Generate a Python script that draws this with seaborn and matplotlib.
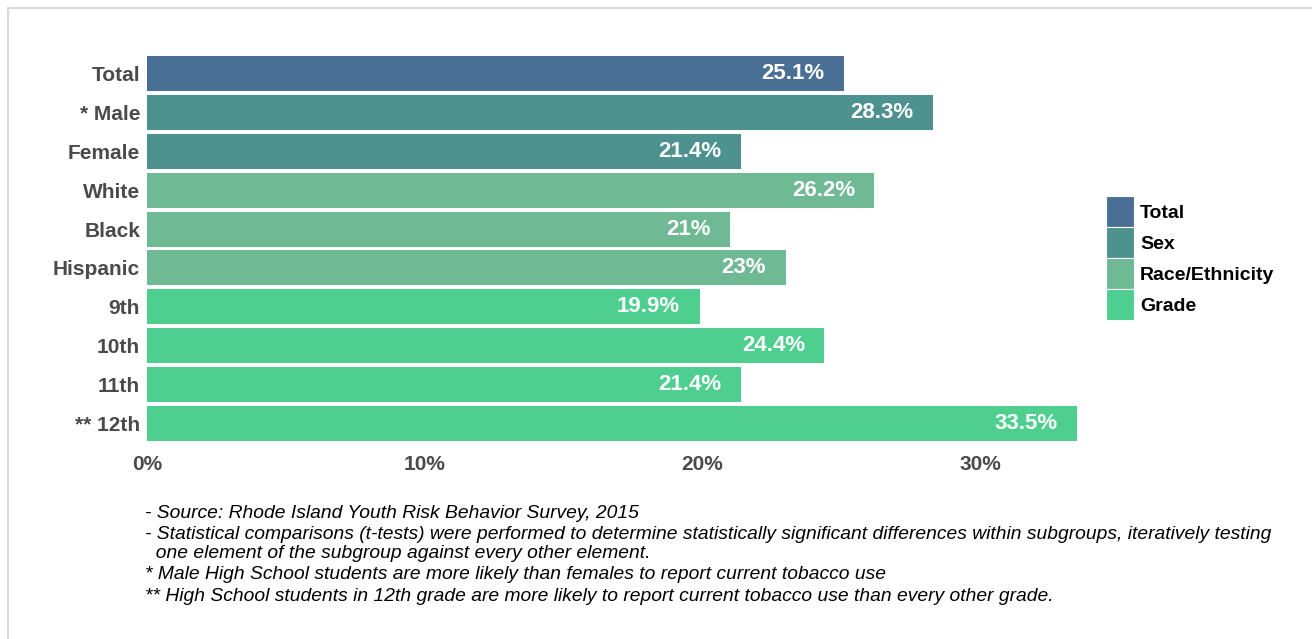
import matplotlib
matplotlib.use("Agg")
import matplotlib.pyplot as plt
from matplotlib.lines import Line2D
import pandas as pd
import seaborn as sns

categories = ["Total", "* Male", "Female", "White", "Black", "Hispanic",
              "9th", "10th", "11th", "** 12th"]
values = [25.1, 28.3, 21.4, 26.2, 21.0, 23.0, 19.9, 24.4, 21.4, 33.5]
groups = ["Total", "Sex", "Sex", "Race/Ethnicity", "Race/Ethnicity", "Race/Ethnicity",
          "Grade", "Grade", "Grade", "Grade"]
group_order = ["Total", "Sex", "Race/Ethnicity", "Grade"]
group_colors = ["#4a6f94", "#4e928f", "#6fb994", "#4ecf8f"]
x_ticks = [0, 10, 20, 30]

notes = [
    "- Source: Rhode Island Youth Risk Behavior Survey, 2015",
    "- Statistical comparisons (t-tests) were performed to determine statistically significant differences within subgroups, iteratively testing",
    "  one element of the subgroup against every other element.",
    "* Male High School students are more likely than females to report current tobacco use",
    "** High School students in 12th grade are more likely to report current tobacco use than every other grade.",
]

df = pd.DataFrame({"Category": categories, "Value": values, "Group": groups})

W, H = 1312, 639
sns.set_theme(style="white")
plt.rcParams["font.family"] = ["Liberation Sans", "DejaVu Sans"]

fig = plt.figure(figsize=(W / 100, H / 100), dpi=100)
ax = fig.add_axes([147 / W, 1 - 443 / H, (1091 - 147) / W, (443 - 54) / H])

sns.barplot(data=df, x="Value", y="Category", hue="Group", hue_order=group_order,
            palette=dict(zip(group_order, group_colors)), dodge=False, width=0.9,
            linewidth=0, saturation=1, ax=ax, legend=False)

# value labels inside bar ends
for i, v in enumerate(values):
    ax.annotate(f"{v:g}%", xy=(v, i), xytext=(-14, 0), textcoords="offset points",
                ha="right", va="center", color="white", fontsize=16, fontweight="bold")

ax.set_xlim(0, 34)
ax.set_xticks(x_ticks)
ax.set_xticklabels([f"{t}%" for t in x_ticks])
ax.set_xlabel("")
ax.set_ylabel("")
ax.tick_params(axis="x", length=0, pad=9, labelsize=15, labelcolor="#4a4a4a")
ax.tick_params(axis="y", length=0, pad=5, labelsize=15, labelcolor="#4a4a4a")
for lbl in ax.get_xticklabels() + ax.get_yticklabels():
    lbl.set_fontweight("bold")
sns.despine(ax=ax, left=True, bottom=True)
ax.grid(False)

handles = [plt.Rectangle((0, 0), 1, 1, facecolor=c, edgecolor="white", linewidth=0.8)
           for c in group_colors]
leg = fig.legend(handles, group_order, loc="upper left",
                 bbox_to_anchor=(1106 / W, 1 - 196 / H), frameon=False,
                 fontsize=14, handlelength=1.45, handleheight=2.08, labelspacing=0,
                 handletextpad=0.3, borderpad=0, borderaxespad=0)
for t in leg.get_texts():
    t.set_fontweight("bold")
    t.set_color("black")

baselines = [518, 539, 558, 579, 601]
for line, yb in zip(notes, baselines):
    fig.text(145 / W, 1 - yb / H, line, fontsize=13.9, style="italic",
             color="black", ha="left", va="baseline")

# light frame on top and left edges
fig.add_artist(Line2D([8 / W, 8 / W], [0, 1 - 8 / H], transform=fig.transFigure,
                      color="#d9d9d9", linewidth=1.5))
fig.add_artist(Line2D([8 / W, 1], [1 - 8 / H, 1 - 8 / H], transform=fig.transFigure,
                      color="#d9d9d9", linewidth=1.5))

fig.savefig("out.png", dpi=100, facecolor="white")
